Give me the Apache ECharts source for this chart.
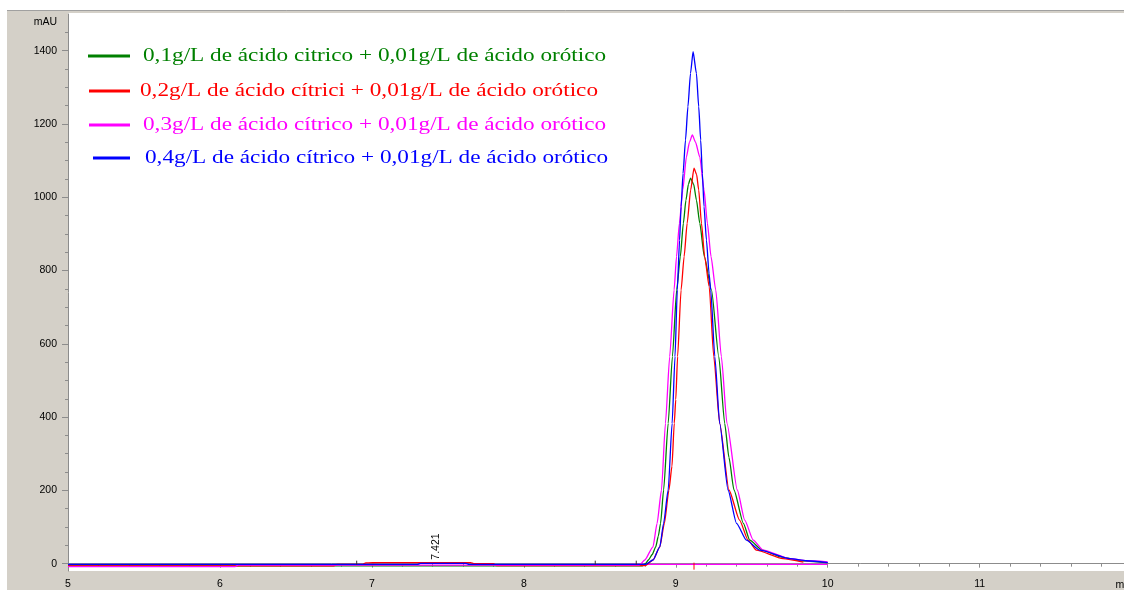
<!DOCTYPE html>
<html><head><meta charset="utf-8">
<script src="https://cdn.jsdelivr.net/npm/echarts@6/dist/echarts.min.js"></script>
<style>html,body{margin:0;padding:0;background:#fff}#c{width:1124px;height:590px}</style>
</head><body><div id="c"></div>
<script>
// ---- data ----
const seriesNames = [
  '0,1g/L de ácido citrico + 0,01g/L de ácido orótico',
  '0,2g/L de ácido cítrici + 0,01g/L de ácido orótico',
  '0,3g/L de ácido cítrico + 0,01g/L de ácido orótico',
  '0,4g/L de ácido cítrico + 0,01g/L de ácido orótico'
];
const seriesColors = ['#008000', '#ff0000', '#ff00ff', '#0000ff'];

const green = [[5,-6],[8.78,-6],[8.80,0],[8.82,10],[8.845,25],[8.868,46],[8.885,75],[8.90,110],[8.92,201],[8.95,383],[8.978,565],[9.006,747],[9.03,838],[9.05,929],[9.067,992],[9.083,1035],[9.097,1052],[9.118,1035],[9.136,992],[9.158,929],[9.188,838],[9.235,747],[9.283,565],[9.322,383],[9.35,290],[9.383,201],[9.445,110],[9.487,64],[9.57,37],[9.7,18],[9.82,8],[10,3]];
const red = [[5,-6],[6.75,-6],[6.77,-2],[6.94,-2],[6.96,2],[7.05,3],[7.65,3],[7.67,0],[7.8,0],[7.82,-5],[8.80,-5],[8.85,10],[8.895,46],[8.925,110],[8.955,201],[8.975,266],[8.99,383],[9.0,448],[9.012,565],[9.035,747],[9.055,838],[9.075,929],[9.098,1020],[9.12,1079],[9.137,1062],[9.151,1020],[9.169,929],[9.19,838],[9.22,756],[9.25,565],[9.289,383],[9.35,201],[9.42,119],[9.476,64],[9.53,37],[9.706,14],[9.84,4]];
const magenta = [[5,-8],[6.1,-8],[6.12,-4],[8.76,-4],[8.796,10],[8.85,46],[8.877,110],[8.906,201],[8.932,383],[8.96,565],[8.989,747],[9.005,838],[9.024,929],[9.046,1020],[9.07,1110],[9.09,1150],[9.109,1170],[9.13,1150],[9.158,1110],[9.186,1020],[9.208,929],[9.232,838],[9.263,747],[9.30,565],[9.337,383],[9.405,201],[9.454,119],[9.51,64],[9.575,37],[9.75,14],[9.86,8],[10,5]];
const blue = [[5,-2],[7.3,-2],[7.32,1],[7.62,1],[7.64,-2],[8.80,-2],[8.85,10],[8.895,46],[8.92,110],[8.95,201],[8.976,383],[8.995,565],[9.01,747],[9.025,883],[9.035,974],[9.048,1065],[9.064,1156],[9.08,1247],[9.097,1338],[9.114,1397],[9.136,1338],[9.151,1247],[9.164,1156],[9.175,1065],[9.186,974],[9.202,883],[9.219,792],[9.23,747],[9.257,565],[9.289,383],[9.344,201],[9.40,110],[9.465,64],[9.553,37],[9.75,14],[9.86,8],[10,3]];
const magentaBaseline = [[8.7,-2],[10,-2]];

const xTickLabels = [5, 6, 7, 8, 9, 10, 11];
const yTickLabels = [0, 200, 400, 600, 800, 1000, 1200, 1400];
const peakLabel = { t: 7.421, text: '7.421' };
const retentionMark = 9.12;
const integrationMarks = [6.9, 8.47, 8.74];

// ---- chart ----
const X_MIN = 5, X_MAX = 11.95, Y_MIN = -20, Y_MAX = 1500;
const minorX = [];
for (let i = 0; i <= 34; i++) { const v = +(5 + i * 0.2).toFixed(2); if (Math.abs(v - Math.round(v)) > 1e-6 && v < X_MAX) minorX.push(v); }
const minorY = [];
for (let v = 50; v <= 1450; v += 50) { if (v % 200 !== 0) minorY.push(v); }

const labelFont = { color: '#000', fontSize: 10.5, fontFamily: 'Liberation Sans', formatter: v => String(v) };
const axisColor = '#8c8c8c';

const allData = [green, red, magenta, blue];
const series = allData.map((d, i) => ({
  name: seriesNames[i], type: 'line', data: d, showSymbol: false, symbol: 'none',
  smooth: 0.2, smoothMonotone: 'x', animation: false,
  lineStyle: { color: seriesColors[i], width: 1.3 }, itemStyle: { color: seriesColors[i] }
}));
series.push({ name: 'baseline', type: 'line', data: magentaBaseline, showSymbol: false, symbol: 'none',
  animation: false, lineStyle: { color: '#ff00ff', width: 1.2 }, z: 1 });

const option = {
  animation: false,
  grid: { left: 68, right: 0, top: 14, bottom: 19, containLabel: false },
  xAxis: [
    { type: 'value', min: X_MIN, max: X_MAX, position: 'bottom',
      axisLine: { lineStyle: { color: axisColor, width: 1 } },
      axisTick: { customValues: xTickLabels, length: 4, lineStyle: { color: axisColor } },
      axisLabel: Object.assign({ customValues: xTickLabels, margin: 8 }, labelFont),
      splitLine: { show: false } },
    { type: 'value', min: X_MIN, max: X_MAX, position: 'bottom',
      axisLine: { show: false },
      axisTick: { customValues: minorX, length: 3, lineStyle: { color: axisColor } },
      axisLabel: { show: false }, splitLine: { show: false } }
  ],
  yAxis: [
    { type: 'value', min: Y_MIN, max: Y_MAX, position: 'left',
      axisLine: { show: true, lineStyle: { color: axisColor, width: 1 } },
      axisTick: { show: true, customValues: yTickLabels, length: 6, lineStyle: { color: axisColor } },
      axisLabel: Object.assign({ customValues: yTickLabels, margin: 11 }, labelFont),
      splitLine: { show: false } },
    { type: 'value', min: Y_MIN, max: Y_MAX, position: 'left', offset: 0,
      axisLine: { show: false },
      axisTick: { show: true, customValues: minorY, length: 3, lineStyle: { color: axisColor } },
      axisLabel: { show: false }, splitLine: { show: false } }
  ],
  series: series
};

const chart = echarts.init(document.getElementById('c'), null, { renderer: 'canvas' });
chart.setOption(option);

const px = (t, v) => chart.convertToPixel({ xAxisIndex: 0, yAxisIndex: 0 }, [t, v]);
const g = [];
// panel backgrounds
g.push({ type: 'rect', shape: { x: 7, y: 10, width: 1117, height: 580 }, style: { fill: '#d4d0c8' }, z: -20, silent: true });
g.push({ type: 'line', shape: { x1: 7, y1: 10.5, x2: 1124, y2: 10.5 }, style: { stroke: '#a0a0a0', lineWidth: 1 }, z: -19, silent: true });
const p0 = px(X_MIN, Y_MAX), p1 = px(X_MAX, Y_MIN);
g.push({ type: 'rect', shape: { x: p0[0], y: 13, width: p1[0] - p0[0], height: p1[1] - 13 }, style: { fill: '#ffffff' }, z: -18, silent: true });
// axis unit labels
g.push({ type: 'text', x: 57, y: 22, style: { text: 'mAU', align: 'right', verticalAlign: 'middle', font: '10.5px "Liberation Sans"', fill: '#000' }, z: 10 });
g.push({ type: 'text', x: 1115.5, y: 585, style: { text: 'min', align: 'left', verticalAlign: 'middle', font: '10.5px "Liberation Sans"', fill: '#000' }, z: 10 });
// legend (line sample + coloured serif label)
const legendRows = [
  { y: 56, x1: 88, tx: 143 }, { y: 91, x1: 89, tx: 140 }, { y: 125, x1: 89, tx: 143 }, { y: 158, x1: 93, tx: 145 }
];
seriesNames.forEach((n, i) => {
  const r = legendRows[i];
  g.push({ type: 'rect', shape: { x: r.x1, y: r.y - 1.5, width: 130 - r.x1, height: 3 }, style: { fill: seriesColors[i] }, z: 20 });
  g.push({ type: 'text', x: r.tx, y: r.y, scaleX: 1.29,
    style: { text: n, align: 'left', verticalAlign: 'middle', font: '18px "Liberation Serif"', fill: seriesColors[i] }, z: 20 });
});
// peak retention-time label
const pl = px(peakLabel.t, 0);
g.push({ type: 'text', x: pl[0], y: pl[1] - 4, rotation: Math.PI / 2,
  style: { text: peakLabel.text, align: 'left', verticalAlign: 'middle', font: '10.5px "Liberation Sans"', fill: '#000' }, z: 10 });
// integration marks
integrationMarks.forEach(t => {
  const p = px(t, 0);
  g.push({ type: 'line', shape: { x1: p[0], y1: p[1] - 3, x2: p[0], y2: p[1] + 1 }, style: { stroke: '#333', lineWidth: 1 }, z: 10 });
});
const rm = px(retentionMark, 0);
g.push({ type: 'line', shape: { x1: rm[0], y1: rm[1] - 1, x2: rm[0], y2: rm[1] + 6 }, style: { stroke: '#ff0000', lineWidth: 1 }, z: 10 });

chart.setOption({ graphic: g });
</script>
</body></html>
